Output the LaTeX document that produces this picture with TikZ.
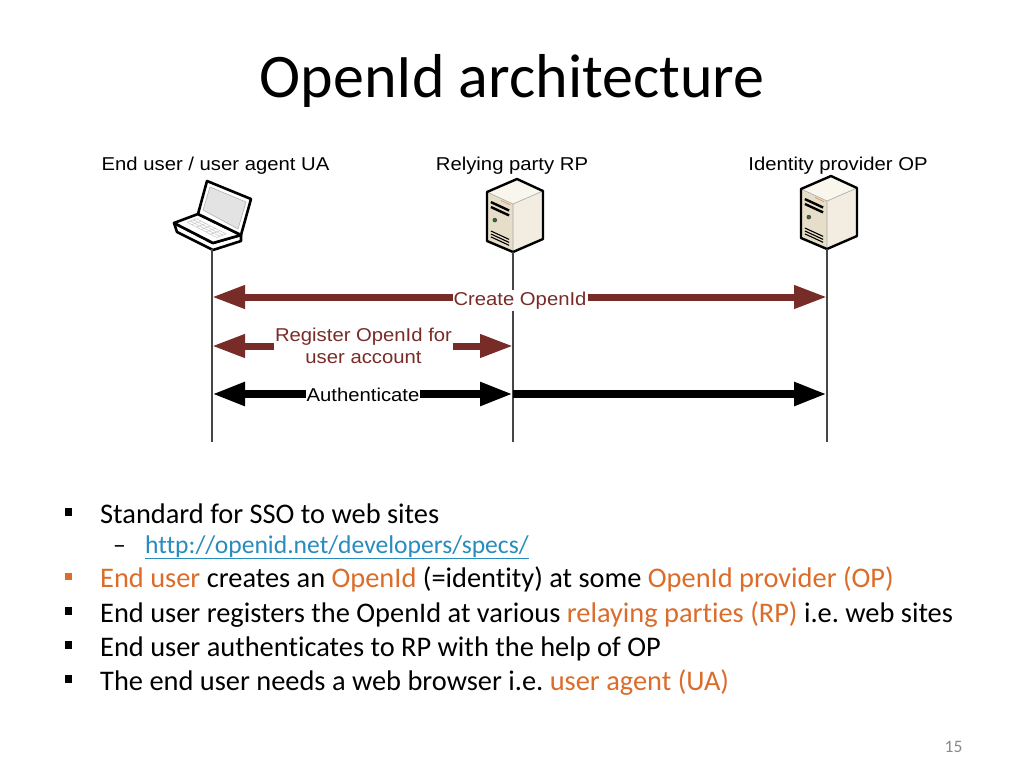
\documentclass[tikz,border=0pt]{standalone}
\usepackage{fontspec}
\usepackage{graphicx}
\setmainfont[Ligatures=NoCommon]{Carlito}
\newfontfamily\arialf{Liberation Sans}
\usetikzlibrary{arrows.meta}
\definecolor{arrowred}{RGB}{120,44,40}
\definecolor{accent}{RGB}{220,108,42}
\definecolor{linkblue}{RGB}{40,140,190}
\definecolor{lifegray}{RGB}{70,70,70}
\definecolor{srvfront}{RGB}{230,222,200}
\definecolor{srvside}{RGB}{242,237,224}
\definecolor{srvtop}{RGB}{249,246,238}
\definecolor{pagegray}{RGB}{137,137,137}
\newcommand{\dlabel}[1]{{\arialf\fontsize{18.6}{21.6}\selectfont\scalebox{1.09}[1]{#1}}}
\frenchspacing
\begin{document}
\begin{tikzpicture}[x=1pt,y=-1pt,
  lifeline/.style={draw=lifegray, line width=1.5pt},
  redarr/.style={draw=arrowred, line width=7pt, -{Triangle[length=33pt,width=22pt]}},
  blkarr/.style={draw=black, line width=8pt, -{Triangle[length=33pt,width=22pt]}},
  dlab/.style={fill=white, inner xsep=0.8pt, inner ysep=2pt, anchor=base},
  head/.style={inner sep=0pt, anchor=base},
  sq/.style={rectangle, fill=black, minimum size=7.5pt, inner sep=0pt},
  btext/.style={inner sep=0pt, anchor=base west, font=\fontsize{28.4}{34}\selectfont},
  server/.pic={
    \fill[srvfront] (0,0) -- (-26,-11) -- (-26,-60) -- (0,-48) -- cycle;
    \fill[srvside] (0,0) -- (0,-48) -- (30,-61) -- (30,-13) -- cycle;
    \fill[srvtop] (-26,-60) -- (0,-48) -- (30,-61) -- (4,-73) -- cycle;
    \draw[line width=0.6pt, gray!70] (-26,-60) -- (0,-48) -- (30,-61) (0,-48) -- (0,0);
    \draw[line width=0.8pt, accent!70] (-12,-51.5) -- (-3,-47.3);
    \draw[line width=2.4pt] (-22.1,-49.9) -- (-3.9,-41.5);
    \draw[line width=2.4pt] (-22.1,-45.0) -- (-3.9,-36.6);
    \fill[black!70] (-18.2,-31.9) circle (2.3pt);
    \fill[green!60!black] (-18.2,-31.9) circle (0.9pt);
    \draw[line width=1.1pt] (-22.1,-21.0) -- (-3.9,-12.6);
    \draw[line width=1.1pt] (-22.1,-18.0) -- (-3.9,-9.6);
    \draw[line width=1.1pt] (-22.1,-15.1) -- (-3.9,-6.7);
    \draw[line width=2.4pt, line join=round] (0,0) -- (-26,-11) -- (-26,-60) -- (4,-73) -- (30,-61) -- (30,-13) -- cycle;
  }]
\fill[white] (0,0) rectangle (1024,768);
\useasboundingbox (0,0) rectangle (1024,768);

% title
\node[head, font=\fontsize{62}{70}\selectfont] (title) at (512,97) {OpenId architecture};

% actor headings
\node[head] (hua) at (215.5,170) {\dlabel{End user / user agent UA}};
\node[head] (hrp) at (512,170) {\dlabel{Relying party RP}};
\node[head] (hop) at (838,170) {\dlabel{Identity provider OP}};

% lifeline coordinates
\coordinate (ua0) at (212,249); \coordinate (ua9) at (212,442);
\coordinate (rp0) at (513,252); \coordinate (rp9) at (513,442);
\coordinate (op0) at (827,249); \coordinate (op9) at (827,442);
\coordinate (ua1) at (212,297); \coordinate (op1) at (827,297);
\coordinate (ua2) at (212,346); \coordinate (rp2) at (513,346);
\coordinate (ua3) at (212,394); \coordinate (rp3) at (513,394); \coordinate (op3) at (827,394);

% laptop
\begin{scope}[line width=2.6pt, line join=round]
  \filldraw[fill=white] (174,223) -- (177,232) -- (213,250) -- (241,241) -- (241,235) -- (213,243) -- cycle;
  \filldraw[fill=white] (174,223) -- (198,214) -- (241,235) -- (213,243) -- cycle;
  \foreach \t in {0.35,0.48,0.61,0.74} {
    \draw[gray!45, line width=0.5pt] ({174+39*0.12+24*\t},{223+20*0.12-9*\t}) -- ({174+39*0.88+24*\t},{223+20*0.88-9*\t});
  }
  \foreach \s in {0.12,0.24,0.36,0.48,0.60,0.72,0.88} {
    \draw[gray!45, line width=0.5pt] ({174+39*\s+24*0.35},{223+20*\s-9*0.35}) -- ({174+39*\s+24*0.74},{223+20*\s-9*0.74});
  }
  \filldraw[fill=white] (198,214) -- (207,181) -- (251,199) -- (241,235) -- cycle;
  \filldraw[fill=gray!22, draw=gray!60, line width=0.6pt] (203,210) -- (210,187) -- (246,202) -- (238,229) -- cycle;
\end{scope}

% servers
\pic (rpsrv) at (rp0) {server};
\pic (opsrv) at (op0) {server};

% lifelines
\draw[lifeline] (ua0) -- (ua9);
\draw[lifeline] (rp0) -- (rp9);
\draw[lifeline] (op0) -- (op9);

% labels on arrows
\node[dlab, text=arrowred] (create) at (520,305) {\dlabel{Create OpenId}};
\node[dlab, text=arrowred, inner ysep=0pt] (reg1) at (363.5,341.7) {\dlabel{Register OpenId for}};
\node[dlab, text=arrowred, inner ysep=0pt] (reg2) at (363.5,363.3) {\dlabel{user account}};
\node[dlab] (auth) at (363,401.7) {\dlabel{Authenticate}};

% arrows
\draw[redarr] (create.west |- ua1) -- (ua1);
\draw[redarr] (create.east |- op1) -- (op1);
\draw[redarr] (reg1.west |- ua2) -- (ua2);
\draw[redarr] (reg1.east |- rp2) -- (rp2);
\draw[blkarr] (auth.west |- ua3) -- (ua3);
\draw[blkarr] (auth.east |- rp3) -- (rp3);
\draw[blkarr] (rp3) -- (op3);

% bullets
\node[sq] (sq1) at (68.5,512) {};
\node[btext] (t1) at (100,523) {Standard for SSO to web sites};
\node[btext, font=\fontsize{25.6}{30}\selectfont] (d1) at (113,553) {–};
\node[btext, font=\fontsize{25.6}{30}\selectfont, text=linkblue] (url) at (145,553) {\underline{http://openid.net/developers/specs/}};
\node[sq, fill=accent] (sq2) at (68.5,576.5) {};
\node[btext] (t2) at (100,587.5) {\textcolor{accent}{End user} creates an \textcolor{accent}{OpenId} (=identity) at some \textcolor{accent}{OpenId provider (OP)}};
\node[sq] (sq3) at (68.5,611) {};
\node[btext] (t3) at (100,622) {End user registers the OpenId at various \textcolor{accent}{relaying parties (RP)} i.e. web sites};
\node[sq] (sq4) at (68.5,645) {};
\node[btext] (t4) at (100,656) {End user authenticates to RP with the help of OP};
\node[sq] (sq5) at (68.5,679) {};
\node[btext] (t5) at (100,690) {The end user needs a web browser i.e. \textcolor{accent}{user agent (UA)}};

% page number
\node[head, text=pagegray, font=\fontsize{17.5}{20}\selectfont] (pg) at (953.5,752) {15};
\end{tikzpicture}
\end{document}
